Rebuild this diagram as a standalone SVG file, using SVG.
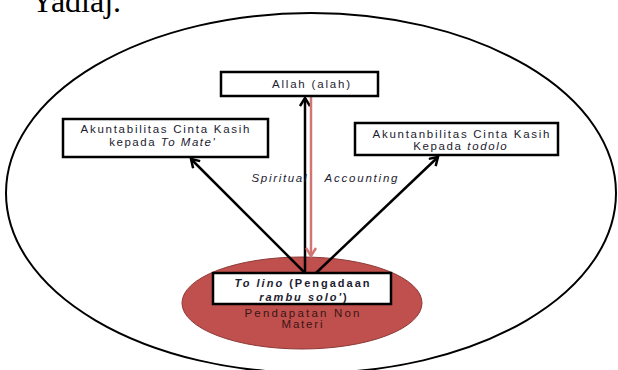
<svg xmlns="http://www.w3.org/2000/svg" width="618" height="370" viewBox="0 0 618 370">
<defs>
<marker id="ah" markerWidth="12" markerHeight="12" viewBox="-10 -6 12 12" refX="0" refY="0" orient="auto" markerUnits="userSpaceOnUse">
<path d="M-8,-5 L0,0 L-8,5" fill="none" stroke="#000" stroke-width="2.5"/>
</marker>
<marker id="ahr" markerWidth="12" markerHeight="12" viewBox="-10 -6 12 12" refX="0" refY="0" orient="auto" markerUnits="userSpaceOnUse">
<path d="M-8,-5 L0,0 L-8,5" fill="none" stroke="#d07474" stroke-width="2.5"/>
</marker>
</defs>
<style>
.box{fill:#fff;stroke:#000;stroke-width:2.5}
.t{font-family:"Liberation Sans",Arial,sans-serif;font-size:11.5px;fill:#1c1c30;text-anchor:middle}
.i{font-style:italic}
.b{font-weight:bold;font-size:11px}
.c{stroke:#000;stroke-width:2.5;fill:none}
</style>
<rect width="618" height="370" fill="#fff"/>
<text x="31" y="12" font-family="Liberation Serif,serif" font-size="32" fill="#000">Yadiaj.</text>
<g id="outer">
<ellipse cx="311" cy="193" rx="305" ry="180" fill="none" stroke="#000" stroke-width="2"/>
</g>
<g id="red-ellipse">
<ellipse cx="302" cy="303" rx="120" ry="46" fill="#c0504d" stroke="#8c3836" stroke-width="1"/>
<text class="t" x="302" y="317" style="fill:#3b1515" textLength="115" lengthAdjust="spacing">Pendapatan Non</text>
<text class="t" x="302" y="328" style="fill:#3b1515" textLength="41" lengthAdjust="spacing">Materi</text>
</g>
<g id="connectors">
<line class="c" x1="305" y1="273" x2="305" y2="98" marker-end="url(#ah)"/>
<line x1="311" y1="97" x2="311" y2="256" stroke="#d07474" stroke-width="2.5" marker-end="url(#ahr)"/>
<line class="c" x1="305" y1="273" x2="191" y2="159" marker-end="url(#ah)"/>
<line class="c" x1="316" y1="273" x2="438" y2="157" marker-end="url(#ah)"/>
<text class="t i" x="279" y="182" textLength="55" lengthAdjust="spacing">Spiritual</text>
<text class="t i" x="361" y="182" textLength="73" lengthAdjust="spacing">Accounting</text>
</g>
<g id="allah">
<rect class="box" x="221" y="72" width="157" height="24"/>
<text class="t" x="311" y="88" textLength="78" lengthAdjust="spacing">Allah (alah)</text>
</g>
<g id="to-mate">
<rect class="box" x="63" y="119" width="205" height="38"/>
<text class="t" x="165" y="133" textLength="169" lengthAdjust="spacing">Akuntabilitas Cinta Kasih</text>
<text class="t" x="162.7" y="146" letter-spacing="1.5">kepada <tspan class="i">To Mate'</tspan></text>
</g>
<g id="todolo">
<rect class="box" x="355" y="123" width="203" height="32"/>
<text class="t" x="461" y="138" textLength="177" lengthAdjust="spacing">Akuntanbilitas Cinta Kasih</text>
<text class="t" x="460.8" y="150" letter-spacing="1.6">Kepada <tspan class="i">todolo</tspan></text>
</g>
<g id="to-lino">
<rect class="box" x="213" y="273" width="178" height="31"/>
<text class="t b" x="303" y="287" letter-spacing="2"><tspan class="i">To lino</tspan> (Pengadaan</text>
<text class="t b" x="304" y="300.5" letter-spacing="2"><tspan class="i">rambu solo'</tspan>)</text>
</g>
</svg>
